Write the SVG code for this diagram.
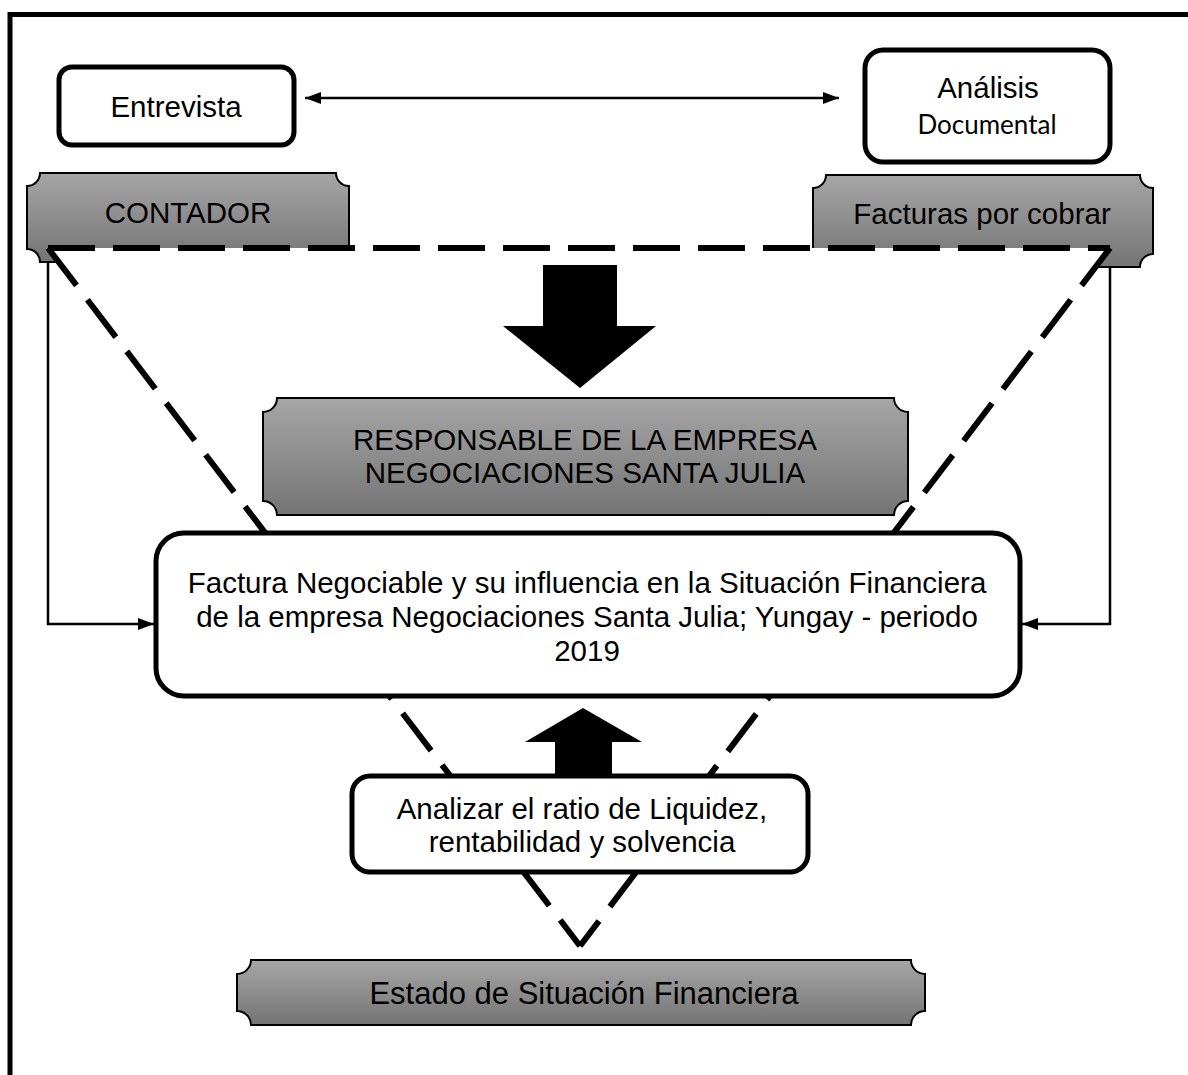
<svg xmlns="http://www.w3.org/2000/svg" width="1188" height="1075" viewBox="0 0 1188 1075">
<style>
.t{font-family:"Liberation Sans",Arial,sans-serif;font-size:29.5px;fill:#000;text-anchor:middle}
.c{font-family:Lato,"Liberation Sans",sans-serif;font-size:26px;fill:#000;text-anchor:middle}
.box{fill:#fff;stroke:#000;stroke-width:5}
.plq{fill:url(#g);stroke:#000;stroke-width:2}
.thin{fill:none;stroke:#000;stroke-width:2.5}
.dash{fill:none;stroke:#000;stroke-width:6;stroke-dasharray:47 18}
</style>
<defs>
<linearGradient id="g" x1="0" y1="0" x2="0" y2="1">
<stop offset="0" stop-color="#a6a6a6"/>
<stop offset="1" stop-color="#747474"/>
</linearGradient>
<marker id="ah" viewBox="0 0 16 12" refX="16" refY="6" markerWidth="16" markerHeight="12" markerUnits="userSpaceOnUse" orient="auto-start-reverse">
<path d="M0,0 L16,6 L0,12 Z" fill="#000"/>
</marker>
</defs>
<rect width="1188" height="1075" fill="#fff"/>
<g id="frame">
<line x1="8" y1="14.5" x2="1188" y2="14.5" stroke="#000" stroke-width="5"/>
<line x1="10" y1="12" x2="10" y2="1075" stroke="#000" stroke-width="5"/>
</g>
<g id="contador">
<path class="plq" d="M40,173 H336 A13,13 0 0 0 349,186 V249 A13,13 0 0 0 336,262 H40 A13,13 0 0 0 27,249 V186 A13,13 0 0 0 40,173 Z"/>
<text class="t" x="188" y="223">CONTADOR</text>
</g>
<g id="facturas">
<path class="plq" d="M826,175 H1140 A13,13 0 0 0 1153,188 V254 A13,13 0 0 0 1140,267 H826 A13,13 0 0 0 813,254 V188 A13,13 0 0 0 826,175 Z"/>
<text class="t" x="982" y="224">Facturas por cobrar</text>
</g>
<g id="triangle">
<polygon points="48,248 1110,248 580,946" fill="#fff"/>
<line class="dash" x1="48" y1="248" x2="1110" y2="248"/>
<line class="dash" x1="48" y1="248" x2="580" y2="946"/>
<line class="dash" x1="1110" y1="248" x2="580" y2="946"/>
</g>
<g id="connectors">
<line class="thin" x1="305" y1="98" x2="839" y2="98" marker-start="url(#ah)" marker-end="url(#ah)"/>
<polyline class="thin" points="48,262 48,624 154,624" marker-end="url(#ah)"/>
<polyline class="thin" points="1110,266 1110,624 1022,624" marker-end="url(#ah)"/>
<polygon points="543,265 617,265 617,326 656,326 580,388 503,326 543,326" fill="#000"/>
<polygon points="583,708 642,742 612,742 612,776 555,776 555,742 525,742" fill="#000"/>
</g>
<g id="entrevista">
<rect class="box" x="59" y="67" width="235" height="78" rx="13"/>
<text class="t" x="176" y="117">Entrevista</text>
</g>
<g id="analisis">
<rect class="box" x="865" y="50" width="245" height="112" rx="18"/>
<text class="t" x="988" y="98">Análisis</text>
<text class="c" x="987" y="134">Documental</text>
</g>
<g id="responsable">
<path class="plq" d="M277,398 H894 A14,14 0 0 0 908,412 V501 A14,14 0 0 0 894,515 H277 A14,14 0 0 0 263,501 V412 A14,14 0 0 0 277,398 Z"/>
<text class="t" x="585" y="450">RESPONSABLE DE LA EMPRESA</text>
<text class="t" x="585" y="483">NEGOCIACIONES SANTA JULIA</text>
</g>
<g id="factura">
<rect class="box" x="156" y="533" width="864" height="163" rx="28"/>
<text class="t" x="587" y="593">Factura Negociable y su influencia en la Situación Financiera</text>
<text class="t" x="587" y="627">de la empresa Negociaciones Santa Julia; Yungay - periodo</text>
<text class="t" x="587" y="661">2019</text>
</g>
<g id="analizar">
<rect class="box" x="352" y="776" width="456" height="96" rx="18"/>
<text class="t" x="582" y="819">Analizar el ratio de Liquidez,</text>
<text class="t" x="582" y="852">rentabilidad y solvencia</text>
</g>
<g id="estado">
<path class="plq" d="M251,960 H911 A14,14 0 0 0 925,974 V1011 A14,14 0 0 0 911,1025 H251 A14,14 0 0 0 237,1011 V974 A14,14 0 0 0 251,960 Z"/>
<text class="t" x="584" y="1004" style="font-size:31px">Estado de Situación Financiera</text>
</g>
</svg>
